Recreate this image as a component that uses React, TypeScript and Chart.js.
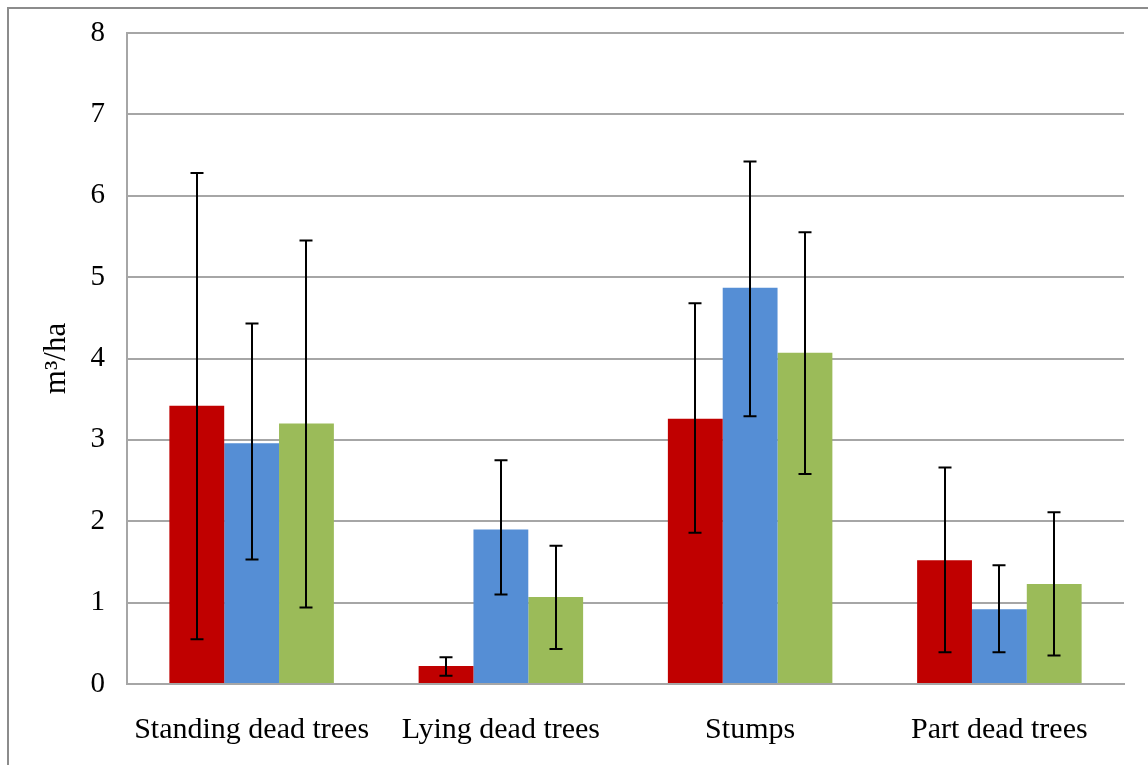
import React, { useEffect, useRef } from "react";
import { Chart, registerables } from "chart.js";

Chart.register(...registerables);

const categories = ["Standing dead trees", "Lying dead trees", "Stumps", "Part dead trees"];
const yTicks = [0, 1, 2, 3, 4, 5, 6, 7, 8];

const series1Values = [3.42, 0.22, 3.26, 1.52];
const series1Low = [0.55, 0.1, 1.86, 0.39];
const series1High = [6.28, 0.33, 4.68, 2.66];

const series2Values = [2.96, 1.9, 4.87, 0.92];
const series2Low = [1.53, 1.1, 3.29, 0.39];
const series2High = [4.43, 2.75, 6.42, 1.46];

const series3Values = [3.2, 1.07, 4.07, 1.23];
const series3Low = [0.94, 0.43, 2.58, 0.35];
const series3High = [5.45, 1.7, 5.55, 2.11];

const seriesNames = ["Series 1", "Series 2", "Series 3"];
const seriesColors = ["#C00000", "#558ED5", "#9BBB59"];

const FONT = "'Liberation Serif', 'Times New Roman', serif";
const GRID = "#A6A6A6";

const errorBarPlugin = {
  id: "errorBars",
  afterDatasetsDraw(chart: any) {
    const lows = [series1Low, series2Low, series3Low];
    const highs = [series1High, series2High, series3High];
    const ctx = chart.ctx;
    const yScale = chart.scales.y;
    ctx.save();
    ctx.strokeStyle = "#000000";
    ctx.lineWidth = 2;
    chart.data.datasets.forEach((_d: any, i: number) => {
      const meta = chart.getDatasetMeta(i);
      meta.data.forEach((el: any, j: number) => {
        const x = Math.round(el.x);
        const y1 = yScale.getPixelForValue(lows[i][j]);
        const y2 = yScale.getPixelForValue(highs[i][j]);
        ctx.beginPath();
        ctx.moveTo(x, y1);
        ctx.lineTo(x, y2);
        ctx.moveTo(x - 6.5, y1);
        ctx.lineTo(x + 6.5, y1);
        ctx.moveTo(x - 6.5, y2);
        ctx.lineTo(x + 6.5, y2);
        ctx.stroke();
      });
    });
    ctx.restore();
  },
};

const borderPlugin = {
  id: "outerBorder",
  beforeDraw(chart: any) {
    const ctx = chart.ctx;
    ctx.save();
    ctx.fillStyle = "#FFFFFF";
    ctx.fillRect(0, 0, chart.width, chart.height);
    ctx.strokeStyle = "#8C8C8C";
    ctx.lineWidth = 2;
    ctx.strokeRect(8, 8, chart.width + 50, chart.height + 50);
    ctx.restore();
  },
};

export default function App() {
  const ref = useRef<HTMLCanvasElement>(null);

  useEffect(() => {
    if (!ref.current) return;
    const values = [series1Values, series2Values, series3Values];
    const chart = new Chart(ref.current, {
      type: "bar",
      data: {
        labels: categories,
        datasets: values.map((v, i) => ({
          label: seriesNames[i],
          data: v,
          backgroundColor: seriesColors[i],
          borderWidth: 0,
          categoryPercentage: 0.66,
          barPercentage: 1.0,
        })),
      },
      options: {
        animation: false,
        responsive: false,
        layout: { padding: { top: 33, right: 24, left: 0, bottom: 0 } },
        plugins: {
          legend: { display: false },
          tooltip: { enabled: false },
        },
        scales: {
          x: {
            grid: { display: false, drawTicks: false },
            border: { display: true, color: GRID, width: 2 },
            ticks: {
              color: "#000000",
              font: { family: FONT, size: 30 },
              padding: 28,
              maxRotation: 0,
              autoSkip: false,
            },
            afterFit(scale: any) {
              scale.height = 81;
              scale.paddingLeft = 0;
              scale.paddingRight = 0;
            },
          },
          y: {
            min: 0,
            max: 8,
            afterBuildTicks(scale: any) {
              scale.ticks = yTicks.map((v) => ({ value: v }));
            },
            grid: { color: GRID, lineWidth: 2, drawTicks: false },
            border: { display: true, color: GRID, width: 2 },
            ticks: {
              color: "#000000",
              font: { family: FONT, size: 29 },
              padding: 22,
            },
            title: {
              display: true,
              text: "m³/ha",
              color: "#000000",
              font: { family: FONT, size: 31 },
              padding: { top: 38, bottom: 0 },
            },
            afterFit(scale: any) {
              scale.width = 127;
              scale.paddingTop = 0;
              scale.paddingBottom = 0;
            },
          },
        },
      },
      plugins: [borderPlugin, errorBarPlugin],
    });
    return () => chart.destroy();
  }, []);

  return (
    <div style={{ position: "absolute", left: 0, top: 0, width: 1148, height: 765 }}>
      <canvas ref={ref} width={1148} height={765} />
    </div>
  );
}
